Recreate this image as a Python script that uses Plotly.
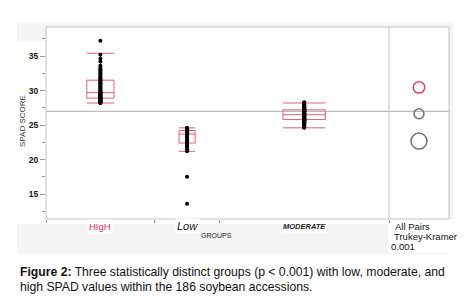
import plotly.graph_objects as go

# ---------------- data ----------------
groups = ["HIgH", "Low", "MODERATE"]
group_n = [59, 35, 92]  # group sizes (JMP draws widths proportional to n)

high_values = [28.2, 28.2, 28.3, 28.3, 28.4, 28.4, 28.5, 28.5, 28.6, 28.6, 28.7, 28.7, 28.8, 28.8, 28.9,
               28.9, 29.0, 29.0, 29.1, 29.1, 29.2, 29.2, 29.3, 29.4, 29.4, 29.5, 29.6, 29.6, 29.7,
               29.7,
               29.8, 29.9, 30.0, 30.1, 30.3, 30.4, 30.6, 30.7, 30.9, 31.0, 31.1, 31.2, 31.4, 31.5,
               31.6, 31.8, 31.9, 32.1, 32.3, 32.5, 32.7, 32.9, 33.1, 33.3, 33.6, 34.2, 34.6, 35.2, 37.2]
low_values = [13.6, 17.5, 21.2, 21.5, 21.8, 22.0, 22.2, 22.3, 22.4, 22.6, 22.8, 22.9, 23.0, 23.2, 23.3,
              23.5, 23.6, 23.7, 23.8, 23.8, 23.9, 23.9, 24.0, 24.0, 24.1, 24.1, 24.2, 24.2, 24.3, 24.3,
              24.4, 24.4, 24.5, 24.5, 24.6]
moderate_values = [24.6, 24.7, 24.8, 24.9, 25.0, 25.0, 25.1, 25.1, 25.2, 25.2, 25.3, 25.3, 25.4, 25.4, 25.5,
                   25.5, 25.6, 25.6, 25.7, 25.7, 25.7, 25.8, 25.8,
                   25.9, 25.9, 25.9, 26.0, 26.0, 26.0, 26.1, 26.1, 26.1, 26.2, 26.2, 26.2, 26.3, 26.3, 26.3,
                   26.4, 26.4, 26.4, 26.4, 26.5, 26.5, 26.5, 26.5,
                   26.6, 26.6, 26.6, 26.7, 26.7, 26.7, 26.8, 26.8, 26.8, 26.9, 26.9, 26.9, 27.0, 27.0, 27.0,
                   27.1, 27.1, 27.1, 27.1, 27.2, 27.2, 27.2, 27.2,
                   27.3, 27.3, 27.3, 27.4, 27.4, 27.4, 27.5, 27.5, 27.5, 27.6, 27.6, 27.6, 27.7, 27.7, 27.7,
                   27.8, 27.8, 27.9, 27.9, 28.0, 28.1, 28.2, 28.3]
group_values = [high_values, low_values, moderate_values]

# box statistics
box_q1 = [28.9, 22.4, 25.8]
box_median = [29.7, 23.7, 26.5]
box_q3 = [31.5, 24.2, 27.2]
box_low = [28.2, 21.2, 24.6]
box_high = [35.4, 24.6, 28.2]

# comparison circles (All Pairs Tukey-Kramer)
circle_means = [30.46, 22.68, 26.64]
circle_radii = [0.83, 1.16, 0.72]
circle_colors = ["#e8405a", "#707070", "#707070"]
grand_mean = 27.0

y_ticks = [15, 20, 25, 30, 35]

# ---------------- layout helpers ----------------
W, H = 467, 308
L, R, T, B = 38, 441, 19, 211
split_px = 381
dom_split = (split_px - L) / (R - L)


def px(x, y):
    return (x - L) / (R - L), (B - y) / (B - T)


FONT = "Liberation Sans, Arial, sans-serif"
BOX_COLOR = "#e2606f"

cum = []
s = 0
for n in group_n:
    cum.append(s)
    s += n
total = s
bounds = cum + [total]
centers = [c + n / 2 for c, n in zip(cum, group_n)]

fig = go.Figure()

for i, g in enumerate(groups):
    fig.add_trace(go.Box(
        x=[centers[i]], q1=[box_q1[i]], median=[box_median[i]], q3=[box_q3[i]],
        lowerfence=[box_low[i]], upperfence=[box_high[i]],
        width=0.25 * group_n[i], whiskerwidth=1,
        line=dict(color=BOX_COLOR, width=1), fillcolor="rgba(0,0,0,0)",
        boxpoints=False, showlegend=False, xaxis="x", yaxis="y", hoverinfo="skip"))

for i, g in enumerate(groups):
    fig.add_trace(go.Scatter(
        x=[centers[i]] * len(group_values[i]), y=group_values[i], mode="markers",
        marker=dict(color="black", size=4), showlegend=False, xaxis="x", yaxis="y"))

y_lo, y_hi = 11.4, 39.2
ppu = (B - T) / (y_hi - y_lo)
half = (R - split_px) / ppu / 2
x2_range = [-half, half]

shapes = []
# light gray panel background
gx0, gy0 = px(9, 15)
gx1, gy1 = px(445, 246)
shapes.append(dict(type="rect", xref="paper", yref="paper", x0=gx0, y0=gy1, x1=gx1, y1=gy0,
                   fillcolor="#f3f4f3", line=dict(width=0), layer="below"))
for (ax0, ay0, ax1, ay1) in [(9, 33, 38, 216), (38, 19, 441, 216), (380, 211, 445, 245)]:
    a, b = px(ax0, ay0)
    c, d = px(ax1, ay1)
    shapes.append(dict(type="rect", xref="paper", yref="paper", x0=a, y0=d, x1=c, y1=b,
                       fillcolor="white", line=dict(width=0), layer="below"))
# grand mean line
shapes.append(dict(type="line", xref="paper", yref="y", x0=0, x1=1, y0=grand_mean, y1=grand_mean,
                   line=dict(color="#a8a8a8", width=1), layer="below"))
# frame and split
shapes.append(dict(type="rect", xref="paper", yref="paper", x0=0, y0=0, x1=1, y1=1,
                   line=dict(color="#c4c4c4", width=1)))
shapes.append(dict(type="line", xref="paper", yref="paper", x0=dom_split, x1=dom_split, y0=0, y1=1,
                   line=dict(color="#c4c4c4", width=1)))
# comparison circles
for m, r, c in zip(circle_means, circle_radii, circle_colors):
    shapes.append(dict(type="circle", xref="x2", yref="y", x0=-r, x1=r, y0=m - r, y1=m + r,
                       line=dict(color=c, width=1.5)))

annotations = []


def ann(text, x, y, size, color="#222", anchor="center", bg=None, **kw):
    a, b = px(x, y)
    d = dict(text=text, xref="paper", yref="paper", x=a, y=b, xanchor=anchor, yanchor="middle",
             showarrow=False, font=dict(family=FONT, size=size, color=color))
    if bg:
        d["bgcolor"] = bg
        d["borderpad"] = 1
    d.update(kw)
    annotations.append(d)


label_style = [dict(size=9.5, color="#ee2d50", text="HIgH"),
               dict(size=11, color="#111", text="<i>Low</i>"),
               dict(size=7.5, color="#222", text="<i><b>MODERATE</b></i>")]
for i, st in enumerate(label_style):
    cx = L + (centers[i] / total) * (split_px - L)
    ann(st["text"], cx, 218, st["size"], st["color"], bg="white")

ann("GROUPS", 208, 227, 7, "#222")
ann("All Pairs", 385, 218, 9.5, "#111", anchor="left")
ann("Trukey-Kramer", 384, 228, 9.5, "#111", anchor="left")
ann("0.001", 381, 238, 9.5, "#111", anchor="left")
ann("SPAD SCORE", 14, 113, 8, "#333", textangle=-90)
ann("<b>Figure 2:</b> Three statistically distinct groups (p &lt; 0.001) with low, moderate, and",
    10, 264, 12.2, "#111", anchor="left")
ann("high SPAD values within the 186 soybean accessions.", 10, 279, 12.2, "#111", anchor="left")

fig.update_layout(
    width=W, height=H,
    margin=dict(l=L, r=W - R, t=T, b=H - B),
    paper_bgcolor="white", plot_bgcolor="white",
    showlegend=False,
    xaxis=dict(domain=[0, dom_split], range=[0, total], tickvals=bounds,
               ticktext=[""] * len(bounds), ticks="outside", ticklen=3, tickcolor="#999",
               showgrid=False, zeroline=False, showline=False),
    xaxis2=dict(domain=[dom_split, 1], range=x2_range, anchor="y", showticklabels=False,
                ticks="", showgrid=False, zeroline=False, showline=False),
    yaxis=dict(range=[y_lo, y_hi], tickvals=y_ticks, ticks="outside", ticklen=5, tickcolor="#999",
               tickfont=dict(family=FONT, size=8.5, color="#111", weight="bold"),
               minor=dict(ticks="outside", ticklen=3, dtick=2.5, tick0=0, tickcolor="#999"),
               showgrid=False, zeroline=False, showline=False),
    shapes=shapes, annotations=annotations,
)

fig.write_html("out.html")
